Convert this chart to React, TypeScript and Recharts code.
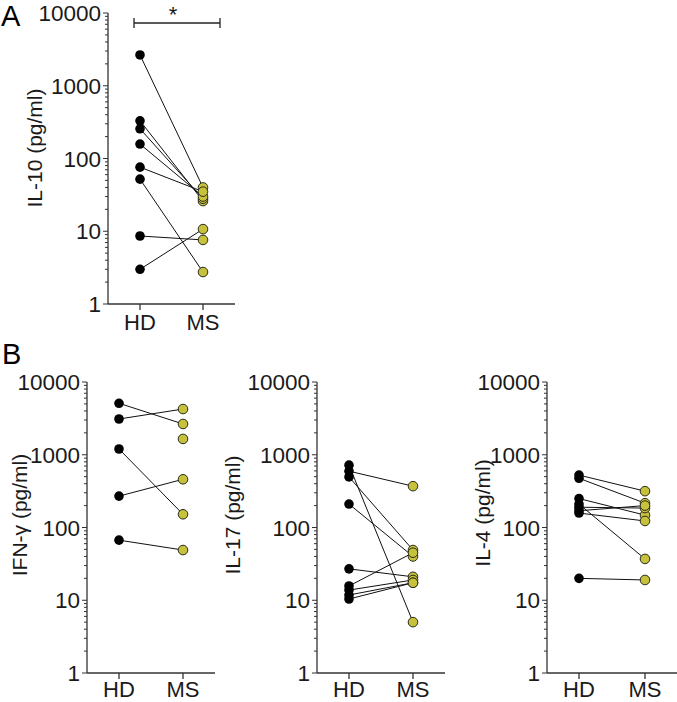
import { LineChart, Line, XAxis, YAxis } from 'recharts';

// groups on the x axis
const groups = ['HD', 'MS'];

// y axis: log decades with labels, plus unlabeled minor ticks
const majorTicks = [1, 10, 100, 1000, 10000];
const minorSteps = [2, 3, 4, 5, 6, 7, 8, 9];

// paired values, HD[i] is joined to MS[i]
const il10HD = [2650, 330, 256, 158, 76, 52, 8.6, 3.0];
const il10MS = [40, 26, 28, 30, 35, 2.75, 7.6, 10.7];

const ifngHD = [5100, 3100, 1200, 270, 67, null];
const ifngMS = [2650, 4250, 152, 460, 49, 1650];

const il17HD = [720, 595, 495, 210, 27, 15.7, 13.8, 11.8, 10.4];
const il17MS = [5.0, 370, 49, 40, 21, 45, 19, 17.4, 17.4];

const il4HD = [525, 475, 250, 210, 190, 170, 158, 20];
const il4MS = [316, 216, 148, 37, 185, 200, 123, 19];

const FONT = '"Liberation Sans", Arial, Helvetica, sans-serif';
const INK = '#1a1a1a';
const AXIS = '#333';
const YELLOW = '#c7c23c';

const allTicks: number[] = [];
majorTicks.forEach((m, i) => {
  allTicks.push(m);
  if (i < majorTicks.length - 1) minorSteps.forEach((s) => allTicks.push(m * s));
});

const buildRows = (hd: (number | null)[], ms: (number | null)[]) =>
  groups.map((g, gi) => {
    const row: Record<string, any> = { group: g };
    const src = gi === 0 ? hd : ms;
    src.forEach((v, i) => {
      row[`s${i}`] = v;
    });
    return row;
  });

const LogTick = (props: any) => {
  const { x, y, payload } = props;
  const v = payload.value;
  const major = majorTicks.includes(v);
  return (
    <g>
      <line x1={x - (major ? 5 : 3)} x2={x} y1={y} y2={y} stroke={AXIS} strokeWidth={1} />
      {major && (
        <text x={x - 7} y={y} dy="0.36em" textAnchor="end" fontSize={22.5} fontFamily={FONT} fill={INK}>
          {v}
        </text>
      )}
    </g>
  );
};

const renderDot = (props: any) => {
  const { cx, cy, payload, index, dataKey } = props;
  const k = `${dataKey}-${index}`;
  if (cx == null || cy == null || payload == null || payload[dataKey] == null) return <g key={k} />;
  const hd = payload.group === 'HD';
  return (
    <circle
      key={k}
      cx={cx}
      cy={cy}
      r={4.8}
      fill={hd ? '#000' : YELLOW}
      stroke={hd ? '#000' : '#2a2a1a'}
      strokeWidth={hd ? 0 : 1}
    />
  );
};

type PanelProps = {
  hd: (number | null)[];
  ms: (number | null)[];
  left: number;
  top: number;
  width: number;
  height: number;
  yWidth: number;
  mTop: number;
  mRight: number;
  xHeight: number;
  labelGap: number;
};

const Panel = ({ hd, ms, left, top, width, height, yWidth, mTop, mRight, xHeight, labelGap }: PanelProps) => {
  const rows = buildRows(hd, ms);
  return (
    <div style={{ position: 'absolute', left, top, width, height }}>
      <LineChart width={width} height={height} data={rows} margin={{ top: mTop, right: mRight, bottom: 0, left: 0 }}>
        <XAxis
          dataKey="group"
          height={xHeight}
          padding={{ left: 32, right: 32 }}
          axisLine={{ stroke: AXIS, strokeWidth: 1.3 }}
          tickLine={{ stroke: AXIS, strokeWidth: 1.3 }}
          tickSize={6}
          tickMargin={labelGap}
          tick={{ fill: INK, fontSize: 22, fontFamily: FONT }}
          interval={0}
        />
        <YAxis
          width={yWidth}
          scale="log"
          domain={[1, 10000]}
          allowDataOverflow
          ticks={allTicks}
          interval={0}
          axisLine={{ stroke: AXIS, strokeWidth: 1.3 }}
          tickLine={false}
          tickSize={0}
          tickMargin={0}
          tick={<LogTick />}
        />
        {hd.map((_, i) => (
          <Line
            key={i}
            type="linear"
            dataKey={`s${i}`}
            stroke="#111"
            strokeWidth={1}
            dot={renderDot}
            activeDot={false}
            isAnimationActive={false}
            connectNulls={false}
          />
        ))}
      </LineChart>
    </div>
  );
};

const yLabel = (x: number, y: number, text: string) => (
  <text
    transform={`translate(${x},${y}) rotate(-90)`}
    textAnchor="middle"
    fontSize={21}
    fontFamily={FONT}
    fill={INK}
  >
    {text}
  </text>
);

export default function App() {
  return (
    <div style={{ position: 'absolute', left: 0, top: 0, width: 677, height: 702, background: '#fff' }}>
      <Panel hd={il10HD} ms={il10MS} left={0} top={0} width={240} height={345} yWidth={108} mTop={13} mRight={5} xHeight={41} labelGap={4} />
      <Panel hd={ifngHD} ms={ifngMS} left={0} top={360} width={220} height={342} yWidth={87} mTop={22} mRight={5} xHeight={29} labelGap={2} />
      <Panel hd={il17HD} ms={il17MS} left={230} top={360} width={220} height={342} yWidth={87} mTop={22} mRight={5} xHeight={29} labelGap={2} />
      <Panel hd={il4HD} ms={il4MS} left={450} top={360} width={227} height={342} yWidth={97} mTop={22} mRight={0} xHeight={29} labelGap={2} />
      <svg
        width={677}
        height={702}
        style={{ position: 'absolute', left: 0, top: 0, pointerEvents: 'none' }}
      >
        <text x={1} y={26} fontSize={29} fontFamily={FONT} fill="#000">A</text>
        <text x={2} y={364} fontSize={29} fontFamily={FONT} fill="#000">B</text>
        <g stroke="#222" strokeWidth={1.3}>
          <line x1={134} x2={220} y1={23} y2={23} />
          <line x1={134} x2={134} y1={18} y2={28} />
          <line x1={220} x2={220} y1={18} y2={28} />
        </g>
        <text x={173} y={22} textAnchor="middle" fontSize={22} fontFamily={FONT} fill={INK}>*</text>
        {yLabel(42, 148, 'IL-10 (pg/ml)')}
        {yLabel(27, 515, 'IFN-γ (pg/ml)')}
        {yLabel(240, 515, 'IL-17 (pg/ml)')}
        {yLabel(490, 513, 'IL-4 (pg/ml)')}
      </svg>
    </div>
  );
}
